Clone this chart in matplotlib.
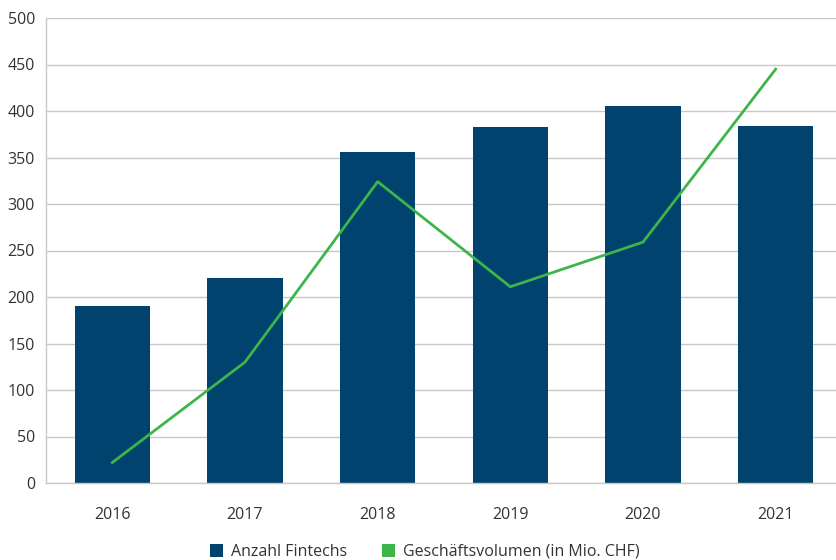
import matplotlib
matplotlib.use('Agg')
import matplotlib.pyplot as plt
from matplotlib.patches import Patch

plt.rcParams['font.family'] = ['Open Sans', 'DejaVu Sans']

years = ['2016', '2017', '2018', '2019', '2020', '2021']
anzahl_fintechs = [190, 220, 356, 383, 405, 384]
geschaeftsvolumen = [22, 130, 324, 211, 259, 445]

bar_color = '#00436e'
line_color = '#3db54a'
grid_color = '#c8c8c8'
text_color = '#333333'

fig = plt.figure(figsize=(8.37, 5.6), dpi=100)
ax = fig.add_axes([46 / 837, 1 - 483 / 560, (842 - 46) / 837, (483 - 18) / 560])

x = list(range(len(years)))
ax.bar(x, anzahl_fintechs, width=0.57, color=bar_color, zorder=2)
ax.plot(x, geschaeftsvolumen, color=line_color, linewidth=2, zorder=3)

ax.set_xlim(-0.5, len(years) - 0.5)
ax.set_ylim(0, 500)
ax.set_yticks(range(0, 501, 50))
ax.set_xticks(x)
ax.set_xticklabels(years)
ax.yaxis.grid(True, color=grid_color, linewidth=1, zorder=0)
ax.set_axisbelow(True)

for s in ['top', 'right']:
    ax.spines[s].set_visible(False)
for s in ['left', 'bottom']:
    ax.spines[s].set_color(grid_color)
    ax.spines[s].set_linewidth(1)

ax.tick_params(axis='both', length=0, labelsize=11.5, colors=text_color)
ax.tick_params(axis='x', pad=17)
ax.tick_params(axis='y', pad=8)

handles = [Patch(facecolor=bar_color, label='Anzahl Fintechs'),
           Patch(facecolor=line_color, label='Geschäftsvolumen (in Mio. CHF)')]
fig.legend(handles=handles, loc='center', bbox_to_anchor=(425 / 837, 1 - 552 / 560),
           ncol=2, frameon=False, fontsize=11.5, labelcolor=text_color,
           handlelength=0.8, handleheight=0.8, handletextpad=0.5, columnspacing=2.2)

fig.savefig('out.png', dpi=100)
